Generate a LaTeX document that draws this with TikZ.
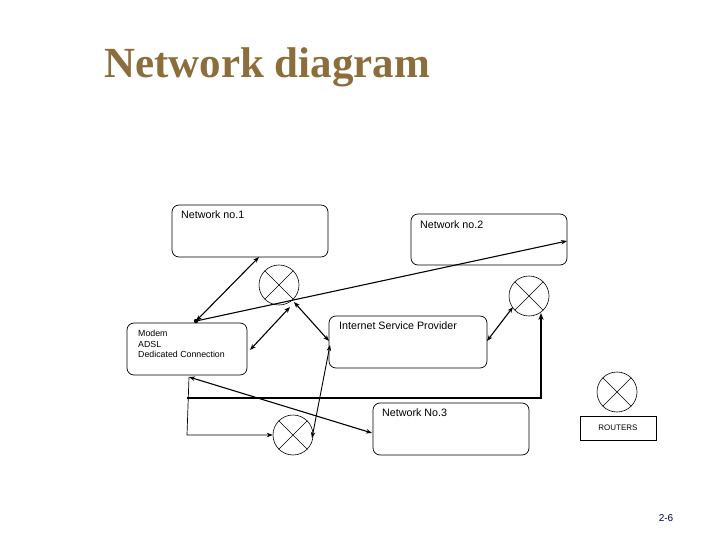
\documentclass[tikz,border=0pt]{standalone}
\usepackage{fontspec}
\setmainfont{Liberation Sans}
\newfontfamily\serifff{Liberation Serif}
\usetikzlibrary{arrows.meta}
\definecolor{titlebrown}{RGB}{140,110,60}
\begin{document}
\begin{tikzpicture}[x=1pt,y=-1pt,
  box/.style={draw,rounded corners=7pt,line width=0.7pt},
  lbl/.style={font=\fontsize{10.7}{12}\selectfont,anchor=north west,inner sep=0pt,align=left},
  rtr/.style={draw,circle,minimum size=40pt,inner sep=0pt,line width=0.6pt},
  con/.style={line width=1.1pt,{Stealth[length=6pt]}-{Stealth[length=6pt]}},
  one/.style={line width=1.1pt,-{Stealth[length=6pt]}}]
\useasboundingbox (0,0) rectangle (720,540);
\node[anchor=base west,font=\serifff\bfseries\fontsize{43}{46}\selectfont,text=titlebrown,inner sep=0pt] (title) at (104,78) {Network diagram};
\draw[box] (172,205) rectangle (328,257);
\draw[box] (411,214) rectangle (567,265);
\draw[box] (127,323) rectangle (247,375);
\draw[box] (329,316) rectangle (487,368);
\draw[box] (373,403) rectangle (529,455);
\node[lbl] (n1) at (181,211) {Network no.1};
\node[lbl] (n2) at (420,221) {Network no.2};
\node[lbl,font=\fontsize{8.8}{10.5}\selectfont] (md) at (138,330) {Modem\\ADSL\\Dedicated Connection};
\node[lbl] (isp) at (339,322) {Internet Service Provider};
\node[lbl] (n3) at (382,409) {Network No.3};
\node[draw,line width=0.7pt,minimum width=76pt,minimum height=24pt,font=\fontsize{8}{9}\selectfont] (leg) at (618,428) {ROUTERS};
\foreach \n/\x/\y in {r1/279/285,r2/529/296,r3/617/392,r4/293/435}{
  \node[rtr] (\n) at (\x,\y) {};
  \draw[line width=0.5pt] (\n.north west) -- (\n.south east) (\n.north east) -- (\n.south west);
}
\coordinate (mt) at (196,321);
\coordinate (n1b) at (259,257);
\coordinate (n2r) at (567,241);
\coordinate (mr) at (250,350);
\coordinate (r1b) at (290,307);
\coordinate (r1c) at (294,302);
\coordinate (ispl) at (329,341);
\coordinate (ispr) at (487,341);
\coordinate (r2l) at (513,307);
\coordinate (r2b) at (541,313);
\coordinate (t1) at (541,398);
\coordinate (t2) at (187,398);
\coordinate (mb) at (189,377);
\coordinate (n3l) at (372,433);
\coordinate (lb) at (187,435);
\coordinate (ispb) at (330,345);
\coordinate (r4r) at (312,438);
\fill (mt) circle (2.2pt);
\draw[con] (n1b) -- (mt);
\draw[one] (mt) -- (n2r);
\draw[con] (mr) -- (r1b);
\draw[con] (r1c) -- (ispl);
\draw[con] (ispr) -- (r2l);
\draw[line width=2pt,-{Stealth[length=7pt]}] (t2) -- (t1) -- (r2b);
\draw[con] (mb) -- (n3l);
\draw[one,line width=0.7pt] (mb) -- (lb) -- (r4.west);
\draw[con,line width=0.9pt] (r4r) -- (ispb);
\node[font=\fontsize{10}{11}\selectfont,text={rgb,255:red,0;green,0;blue,90},anchor=base] (pg) at (666,521) {2-6};
\end{tikzpicture}
\end{document}
